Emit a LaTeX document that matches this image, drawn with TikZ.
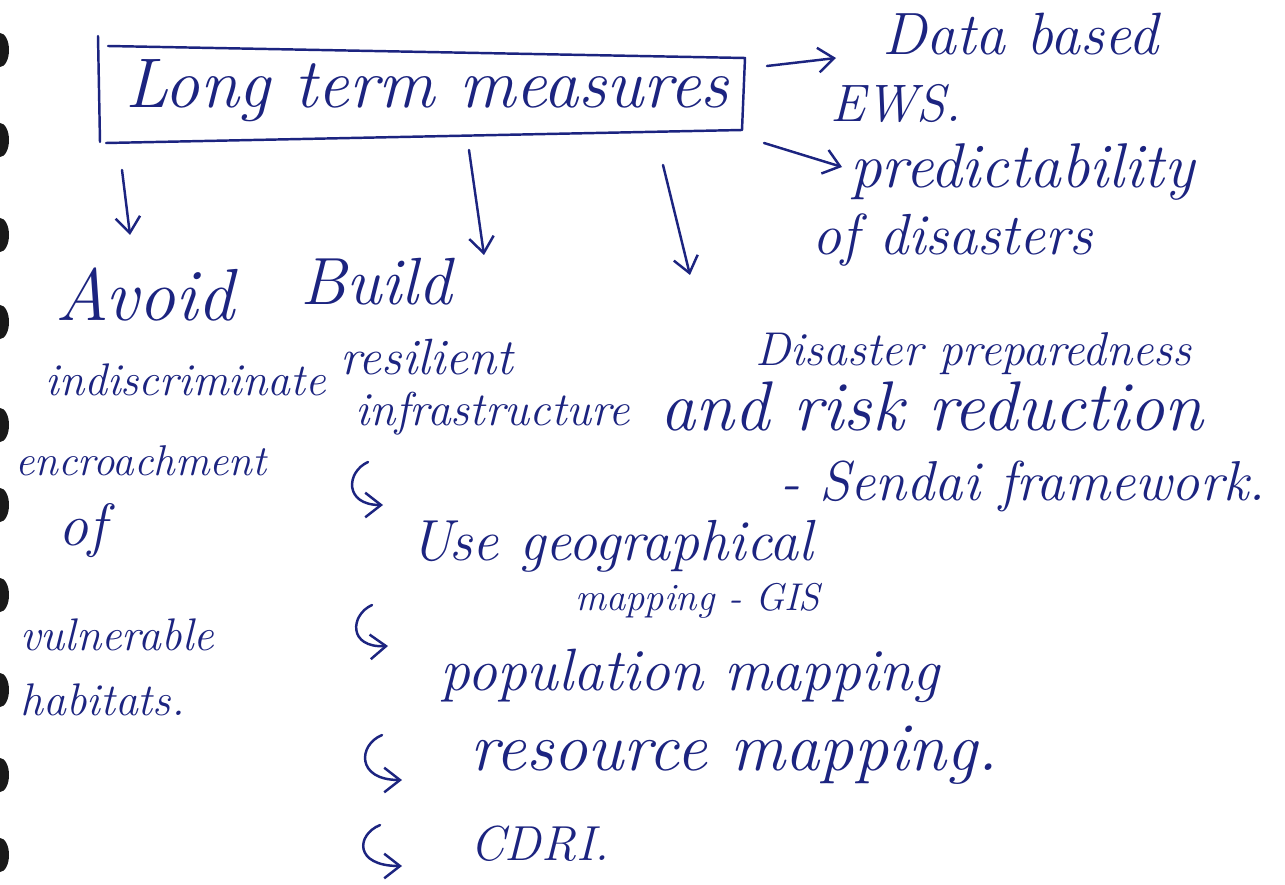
\documentclass[tikz,border=0pt]{standalone}
\usetikzlibrary{arrows.meta}
\definecolor{ink}{RGB}{28,36,128}
\newcommand\hwsz[1]{\fontsize{#1}{#1}\selectfont\itshape}
\tikzset{
  hw/.style={text=ink, anchor=base west, inner sep=0pt},
  pen/.style={draw=ink, line width=1.4pt, line cap=round, line join=round},
  arr/.style={pen, -{Straight Barb[length=9pt,width=14pt,line width=1.4pt]}},
  hole/.style={fill=black!90}
}
\begin{document}
\begin{tikzpicture}[x=0.02cm,y=-0.02cm]
\useasboundingbox (0,0) rectangle (1285,885);
\fill[white] (0,0) rectangle (1285,885);
% binder holes
\foreach \yy in {50,140,235,322,425,505,595,690,775,855}
  \fill[hole] (0,\yy) ellipse [x radius=9, y radius=17];

% main box
\node[hw, font=\hwsz{40}] (ltm) at (125,108) {Long term measures};
\draw[pen] (98,36) -- (100,142) (108,46) -- (745,58) -- (742,130) -- (106,143);

% right branch
\coordinate (e1s) at (767,66);
\coordinate (e1e) at (836,58);
\coordinate (e2s) at (764,143);
\coordinate (e2e) at (842,167);
\node[hw, font=\hwsz{34}] (data) at (882,55) {Data based};
\node[hw, font=\hwsz{30}] (ews) at (830,122) {EWS.};
\node[hw, font=\hwsz{36}] (pred) at (850,188) {predictability};
\node[hw, font=\hwsz{33}] (ofd) at (812,255) {of disasters};
\draw[arr] (e1s) -- (e1e);
\draw[arr] (e2s) -- (e2e);

% down arrows
\coordinate (d1s) at (122,170);
\coordinate (d1e) at (130,235);
\coordinate (d2s) at (469,150);
\coordinate (d2e) at (484,255);
\coordinate (d3s) at (663,165);
\coordinate (d3e) at (690,275);
\draw[arr] (d1s) -- (d1e);
\draw[arr] (d2s) -- (d2e);
\draw[arr] (d3s) -- (d3e);

% left column
\node[hw, font=\hwsz{42}] (avoid) at (55,320) {Avoid};
\node[hw, font=\hwsz{26}] (indis) at (45,395) {indiscriminate};
\node[hw, font=\hwsz{24.5}] (encr) at (15,475) {encroachment};
\node[hw, font=\hwsz{34}] (of) at (58,545) {of};
\node[hw, font=\hwsz{26}] (vuln) at (20,650) {vulnerable};
\node[hw, font=\hwsz{26}] (habit) at (20,715) {habitats.};

% middle column
\node[hw, font=\hwsz{38}] (build) at (300,305) {Build};
\node[hw, font=\hwsz{29}] (resil) at (340,375) {resilient};
\node[hw, font=\hwsz{27}] (infra) at (355,425) {infrastructure};

% right column
\node[hw, font=\hwsz{27}] (dis) at (755,365) {Disaster preparedness};
\node[hw, font=\hwsz{40}] (risk) at (660,430) {and risk reduction};
\node[hw, font=\hwsz{32}] (sendai) at (780,500) {- Sendai framework.};

% sub items
\node[hw, font=\hwsz{33}] (geo) at (410,560) {Use geographical};
\node[hw, font=\hwsz{22}] (gis) at (575,610) {mapping - GIS};
\node[hw, font=\hwsz{34}] (pop) at (440,690) {population mapping};
\node[hw, font=\hwsz{39}] (res) at (470,770) {resource mapping.};
\node[hw, font=\hwsz{28}] (cdri) at (470,860) {CDRI.};

% hooked arrows
\coordinate (h1s) at (368,462);
\coordinate (h1e) at (383,505);
\coordinate (h2s) at (372,605);
\coordinate (h2e) at (388,646);
\coordinate (h3s) at (382,735);
\coordinate (h3e) at (402,780);
\coordinate (h4s) at (380,825);
\coordinate (h4e) at (402,866);
\draw[arr] (h1s) .. controls (346,472) and (344,505) .. (h1e);
\draw[arr] (h2s) .. controls (350,615) and (348,648) .. (h2e);
\draw[arr] (h3s) .. controls (358,745) and (356,780) .. (h3e);
\draw[arr] (h4s) .. controls (356,835) and (354,866) .. (h4e);
\end{tikzpicture}
\end{document}
